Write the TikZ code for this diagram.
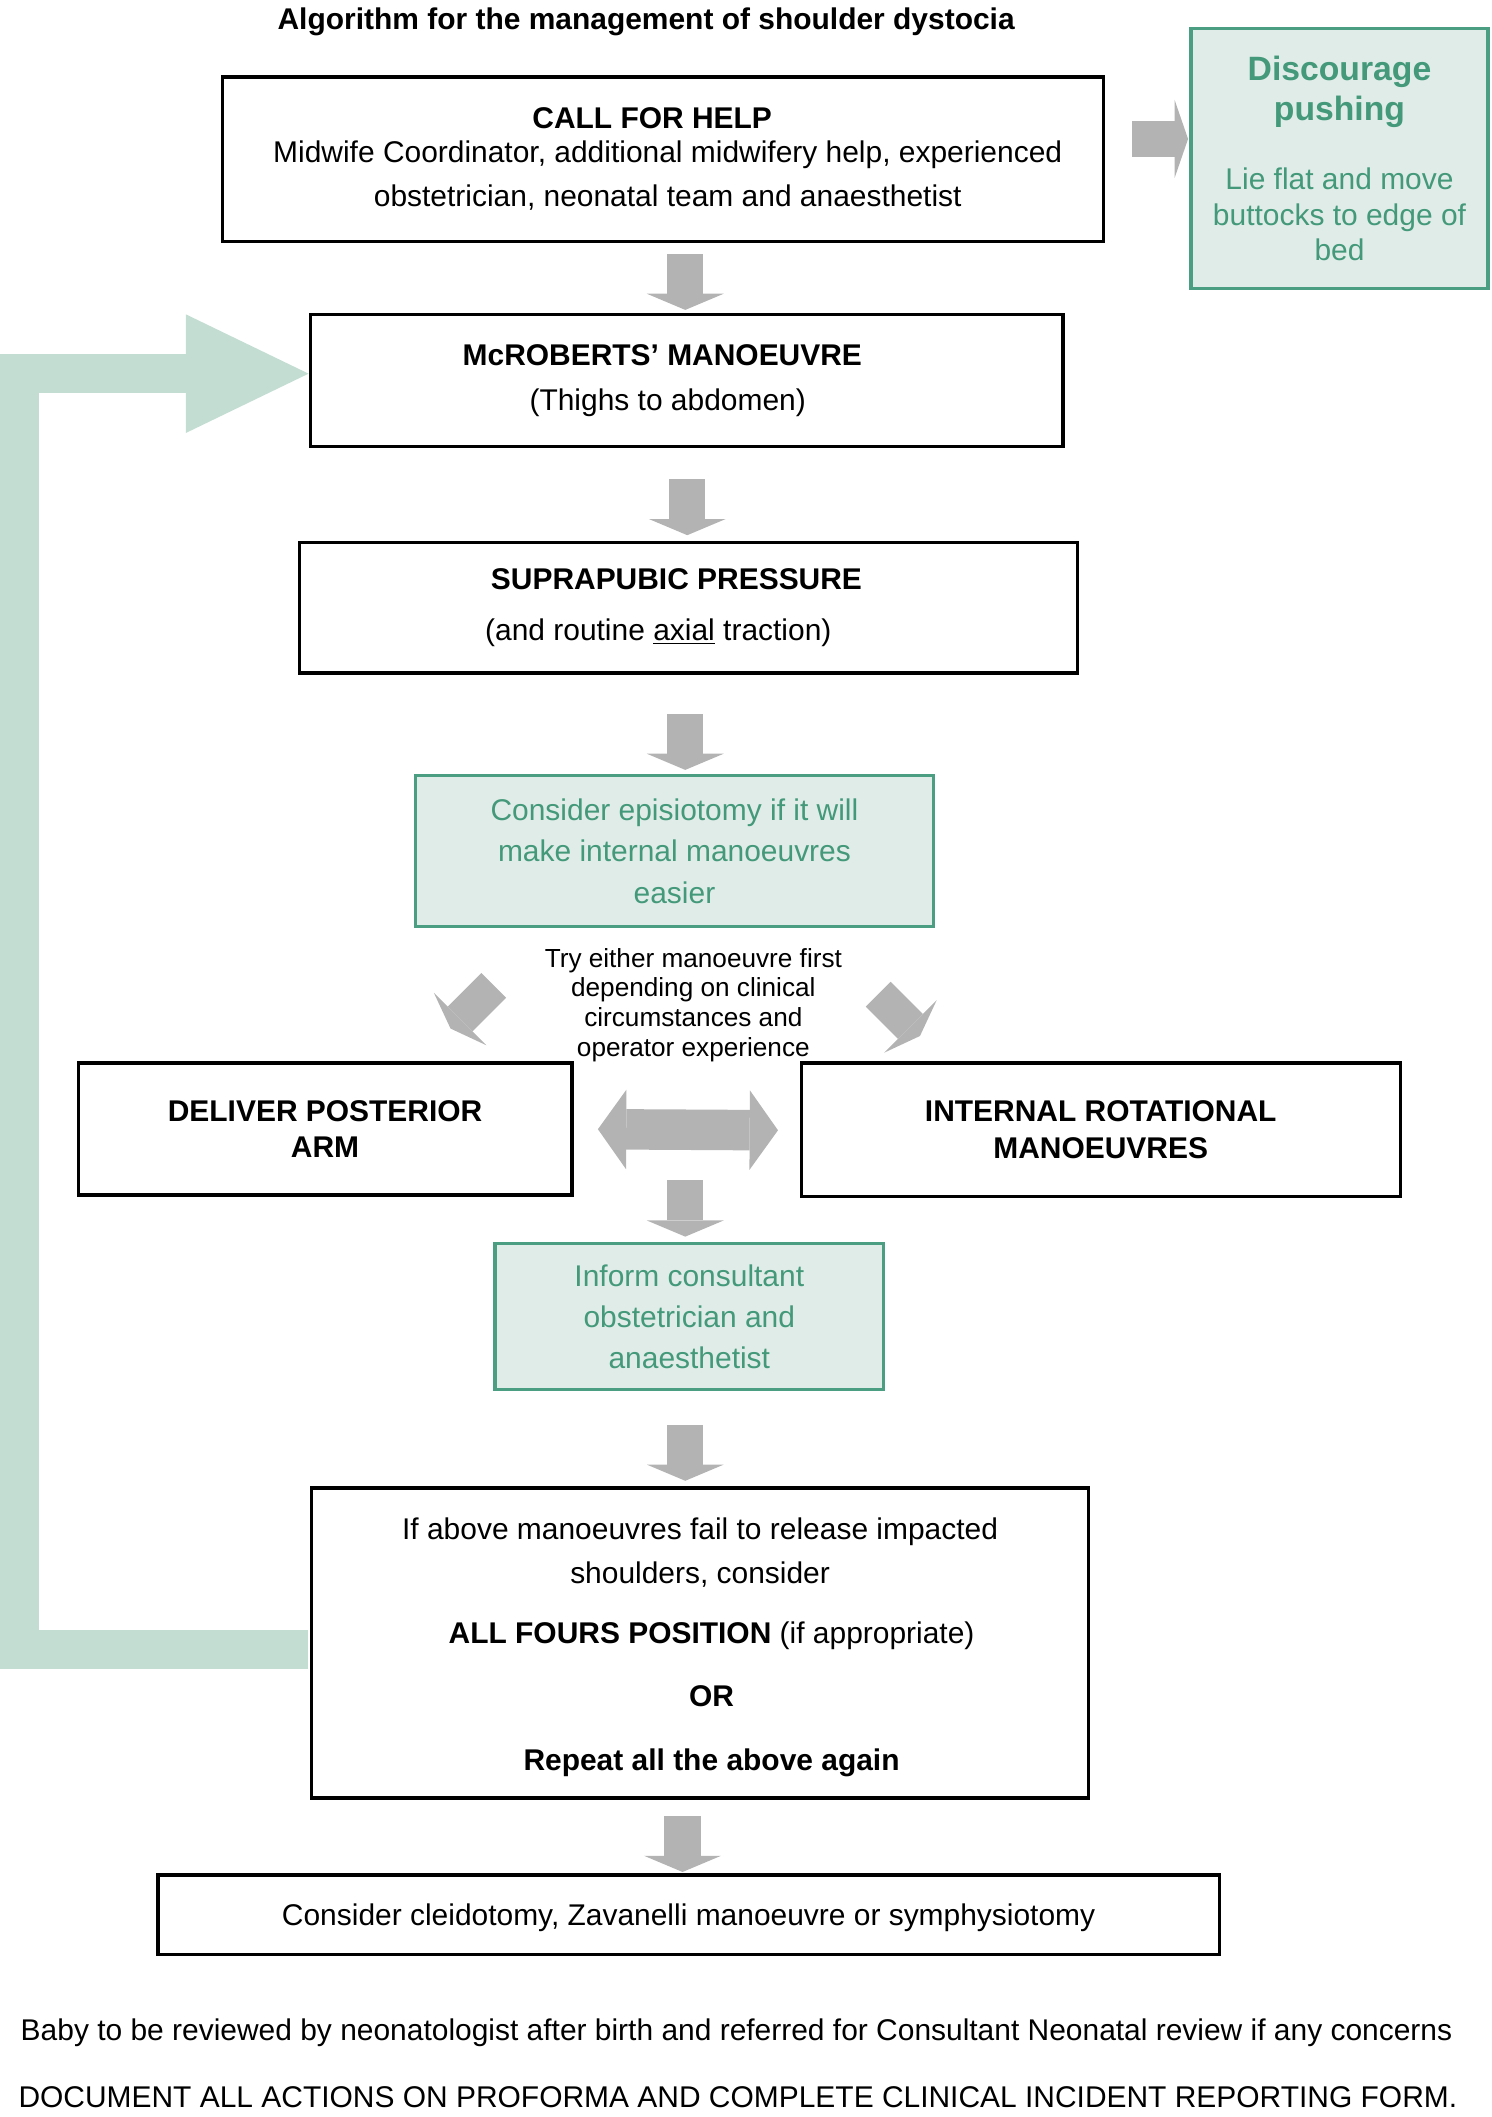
\documentclass[tikz,border=0pt]{standalone}
\usepackage{fontspec}
\setmainfont{Liberation Sans}
\usetikzlibrary{arrows.meta,calc}
\definecolor{agray}{HTML}{B3B3B3}
\definecolor{gfill}{HTML}{E0ECE8}
\definecolor{gborder}{HTML}{4C9E82}
\definecolor{gtext}{HTML}{43997A}
\definecolor{gloop}{HTML}{C3DDD2}
\begin{document}
\begin{tikzpicture}[x=1pt,y=-1pt,
  box/.style={draw=black,line width=2.5pt,fill=white,inner sep=0pt,align=center},
  gbox/.style={draw=gborder,line width=2.5pt,fill=gfill,text=gtext,inner sep=0pt,align=center},
  lbl/.style={inner sep=0pt,align=center},
  blk/.style={draw=agray,line width=27pt,-{Triangle[length=12pt,width=57pt,line width=0pt]}},
  sidearrow/.style={draw=agray,line width=27pt,-{Triangle[length=10pt,width=58pt,line width=0pt]}},
  diagarrow/.style={draw=agray,line width=26pt,-{Triangle[length=10pt,width=55pt,line width=0pt]}},
  dblarrow/.style={draw=agray,line width=30pt,{Triangle[length=21pt,width=59pt,line width=0pt]}-{Triangle[length=21pt,width=59pt,line width=0pt]}},
  looparrow/.style={draw=gloop,line width=29pt,line join=miter,-{Triangle[length=91pt,width=88pt,line width=0pt]}}
]
\useasboundingbox (0,0) rectangle (1106,1569.4);

\node[lbl,font=\fontsize{22.2}{26}\selectfont\bfseries] (title) at (479,16) {Algorithm for the management of shoulder dystocia};

\node[box,minimum width=653pt,minimum height=122pt,font=\fontsize{22.2}{25}\selectfont] (help) at (491.5,118)
 {\textbf{CALL FOR HELP}\hspace*{16pt}\\ \hspace*{7pt}Midwife Coordinator, additional midwifery help, experienced\\[8pt] \hspace*{7pt}obstetrician, neonatal team and anaesthetist};

\node[gbox,minimum width=220pt,minimum height=193pt,font=\fontsize{22.2}{27}\selectfont] (disc) at (993,117.5)
 {\fontsize{25}{30}\selectfont\bfseries Discourage\\[3pt] \fontsize{25}{30}\selectfont\bfseries pushing\\[24pt] Lie flat and move\\ buttocks to edge of\\[-1pt] bed};

\node[box,minimum width=558pt,minimum height=98pt,font=\fontsize{22.2}{33}\selectfont] (mcr) at (509,282)
 {\textbf{McROBERTS’ MANOEUVRE}\hspace*{36pt}\\ (Thighs to abdomen)\hspace*{28pt}};

\node[box,minimum width=577pt,minimum height=97pt,font=\fontsize{22.2}{38}\selectfont] (sp) at (510.5,450.5)
 {\textbf{SUPRAPUBIC PRESSURE}\hspace*{18pt}\\ (and routine \underline{axial} traction)\hspace*{45pt}};

\node[gbox,minimum width=384pt,minimum height=112pt,font=\fontsize{22.2}{30.5}\selectfont] (epi) at (500,631)
 {Consider episiotomy if it will\\ make internal manoeuvres\\ easier};

\node[lbl,font=\fontsize{19.4}{22}\selectfont] (try) at (514,745)
 {Try either manoeuvre first\\ depending on clinical\\ circumstances and\\ operator experience};

\node[box,minimum width=366pt,minimum height=98pt,font=\fontsize{22.2}{27}\selectfont\bfseries] (dpa) at (241,837)
 {DELIVER POSTERIOR\\ ARM};
\node[box,minimum width=444pt,minimum height=99pt,font=\fontsize{22.2}{27}\selectfont\bfseries] (irm) at (816,837.5)
 {INTERNAL ROTATIONAL\\ MANOEUVRES};

\node[gbox,minimum width=288pt,minimum height=108pt,font=\fontsize{22.2}{30.5}\selectfont] (inf) at (511,976)
 {Inform consultant\\ obstetrician and\\ anaesthetist};

\node[box,minimum width=576pt,minimum height=230pt,font=\fontsize{22.2}{33}\selectfont] (big) at (519,1218)
 {\rule{0pt}{22pt}If above manoeuvres fail to release impacted\\ shoulders, consider\\[11pt] \hspace*{17pt}\textbf{ALL FOURS POSITION} (if appropriate)\\[14pt] \hspace*{17pt}\textbf{OR}\\[14pt] \hspace*{17pt}\textbf{Repeat all the above again}};

\node[box,minimum width=787pt,minimum height=59pt,font=\fontsize{22.2}{26}\selectfont,text depth=0pt] (fin) at (510.5,1419.5)
 {Consider cleidotomy, Zavanelli manoeuvre or symphysiotomy};

\node[lbl,font=\fontsize{22.2}{26}\selectfont] (baby) at (546,1507.3)
 {Baby to be reviewed by neonatologist after birth and referred for Consultant Neonatal review if any concerns};
\node[lbl,font=\fontsize{22.2}{26}\selectfont] (doc) at (547,1555)
 {DOCUMENT ALL ACTIONS ON PROFORMA AND COMPLETE CLINICAL INCIDENT REPORTING FORM.};

% connectors
\draw[blk,shorten <=8pt,shorten >=2pt] ([xshift=16.5pt]help.south) -- ([xshift=-1pt]mcr.north);
\draw[blk,shorten <=23pt,shorten >=4pt] ([xshift=0.5pt]mcr.south) -- ([xshift=-1pt]sp.north);
\draw[blk,shorten <=29pt,shorten >=3pt] ([xshift=-2.5pt]sp.south) -- ([xshift=8pt]epi.north);
\coordinate (a4s) at (508,875);
\draw[blk,shorten >=4pt] (a4s) -- ([xshift=-3pt]inf.north);
\draw[blk,shorten <=25pt,shorten >=4pt] ([xshift=-3pt]inf.south) -- ([xshift=-11pt]big.north);
\draw[blk,shorten <=12pt,shorten >=1pt] ([xshift=-13pt]big.south) -- ([xshift=-4.5pt]fin.north);

\draw[sidearrow,shorten <=20pt,shorten >=1pt] ([yshift=15pt]help.east) -- ([yshift=14.5pt]disc.west);

\draw[dblarrow,shorten <=18pt,shorten >=16pt] (dpa.east) -- ([yshift=-0.5pt]irm.west);

\coordinate (dl1) at (366,730.5);
\coordinate (dl2) at (334,762.5);
\coordinate (dr1) at (651,737);
\coordinate (dr2) at (682,768);
\draw[diagarrow] (dl1) -- (dl2);
\draw[diagarrow] (dr1) -- (dr2);

\coordinate (lx) at (14.5,700);
\draw[looparrow,shorten <=1.3pt] ([yshift=-4.5pt]big.west) -| (lx) |- ([yshift=5pt]mcr.west);
\end{tikzpicture}
\end{document}
